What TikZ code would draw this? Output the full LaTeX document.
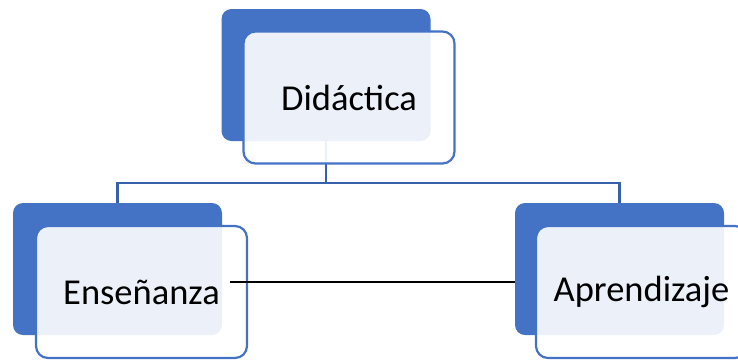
\documentclass[tikz,border=0pt]{standalone}
\usepackage{fontspec}
\setmainfont{Carlito}
\definecolor{accent}{HTML}{4472C4}
\definecolor{conn}{HTML}{3560AA}
\begin{document}
\begin{tikzpicture}[x=1pt,y=-1pt,
  backbox/.style={fill=accent,draw=none,rounded corners=10pt,minimum width=209pt,minimum height=132pt,inner sep=0pt},
  frontbox/.style={draw=accent,line width=2.2pt,fill=white,fill opacity=0.9,text opacity=1,rounded corners=12pt,minimum width=211pt,minimum height=132pt,inner sep=0pt,font=\fontsize{36.5}{40}\selectfont},
  link/.style={draw=conn,line width=2.2pt},
  plain/.style={draw=black,line width=2pt}]
\useasboundingbox (0,0) rectangle (738,360);
% back boxes
\node[backbox] (didb) at (326,75) {};
\node[backbox] (ensb) at (117.5,269) {};
\node[backbox] (aprb) at (619.5,269) {};
% connectors
\coordinate (bus) at (326,183);
\draw[link] (didb.south) -- (bus);
\draw[link] (ensb.north) |- (bus) -| (aprb.north);
% front boxes
\node[frontbox] (didf) at (349,97.5) {Didáctica};
\node[frontbox] (ensf) at (141.5,292) {Enseñanza};
\node[frontbox] (aprf) at (641.5,292) {Aprendizaje};
% black line
\coordinate (ls) at (230,282);
\draw[plain] (ls) -- (aprb.west |- ls);
\end{tikzpicture}
\end{document}
